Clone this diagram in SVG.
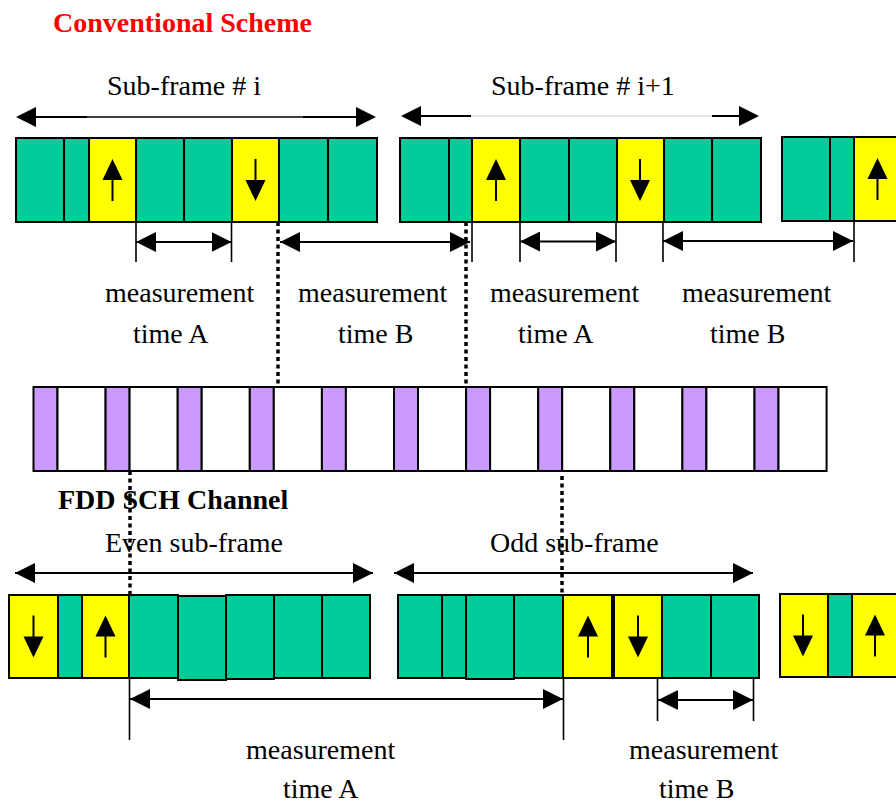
<svg xmlns="http://www.w3.org/2000/svg" xmlns:xlink="http://www.w3.org/1999/xlink" width="896" height="805" viewBox="0 0 896 805">
<style>
text{font-family:"Liberation Serif","Times New Roman",serif;font-size:28px;fill:#000}
.b{font-weight:bold}
.red{fill:#ff0000}
.g{fill:#00cc99;stroke:#000;stroke-width:2}
.y{fill:#ffff00;stroke:#000;stroke-width:2}
.p{fill:#cc99ff;stroke:#000;stroke-width:2}
.w{fill:#fff;stroke:#000;stroke-width:2}
.ln{stroke:#000;stroke-width:2;fill:none}
.thin{stroke:#000;stroke-width:1.3;fill:none}
.tick{stroke:#000;stroke-width:1.6;fill:none}
.dot{stroke:#000;stroke-width:3.5;stroke-dasharray:4 3.5;fill:none}
</style>
<defs>
<marker id="ah" markerUnits="userSpaceOnUse" markerWidth="20" markerHeight="20" viewBox="0 0 20 20" refX="20" refY="10" orient="auto-start-reverse">
<path d="M0,0 L20,10 L0,20 z" fill="#000"/>
</marker>
<g id="up"><line x1="0" y1="-2" x2="0" y2="21" stroke="#000" stroke-width="2"/><polygon points="0,-21 -10,0 10,0" fill="#000"/></g>
<g id="down"><line x1="0" y1="-21" x2="0" y2="2" stroke="#000" stroke-width="2"/><polygon points="0,21 -10,0 10,0" fill="#000"/></g>
</defs>
<rect width="896" height="805" fill="#fff"/>

<text x="53" y="32" class="b red">Conventional Scheme</text>
<text x="107" y="95">Sub-frame # i</text>
<text x="491" y="95">Sub-frame # i+1</text>

<g id="frame-top-1">
<rect x="16" y="138" width="48" height="84" class="g"/>
<rect x="64" y="138" width="25" height="84" class="g"/>
<rect x="89" y="138" width="47" height="84" class="y"/>
<rect x="136" y="138" width="48" height="84" class="g"/>
<rect x="184" y="138" width="48" height="84" class="g"/>
<rect x="232" y="138" width="47" height="84" class="y"/>
<rect x="279" y="138" width="49" height="84" class="g"/>
<rect x="328" y="138" width="49" height="84" class="g"/>
<use xlink:href="#up" href="#up" transform="translate(112.5,180)"/>
<use xlink:href="#down" href="#down" transform="translate(255.5,180)"/>
</g>

<g id="frame-top-2">
<rect x="400" y="138" width="49" height="84" class="g"/>
<rect x="449" y="138" width="23" height="84" class="g"/>
<rect x="472" y="138" width="48" height="84" class="y"/>
<rect x="520" y="138" width="49" height="84" class="g"/>
<rect x="569" y="138" width="48" height="84" class="g"/>
<rect x="617" y="138" width="47" height="84" class="y"/>
<rect x="664" y="138" width="48" height="84" class="g"/>
<rect x="712" y="138" width="49" height="84" class="g"/>
<use xlink:href="#up" href="#up" transform="translate(496,180)"/>
<use xlink:href="#down" href="#down" transform="translate(640,180)"/>
</g>

<g id="frame-top-3">
<rect x="782" y="137" width="48" height="84" class="g"/>
<rect x="830" y="137" width="24" height="84" class="g"/>
<rect x="854" y="137" width="47" height="84" class="y"/>
<use xlink:href="#up" href="#up" transform="translate(877.5,179)"/>
</g>

<g id="labels-top">
<text x="105" y="302">measurement</text>
<text x="133" y="343">time A</text>
<text x="298" y="302">measurement</text>
<text x="338" y="343">time B</text>
<text x="490" y="302">measurement</text>
<text x="518" y="343">time A</text>
<text x="682" y="302">measurement</text>
<text x="710" y="343">time B</text>
</g>

<g id="sch-channel">
<rect x="33.5" y="387" width="24" height="84" class="p"/><rect x="57.5" y="387" width="48.1" height="84" class="w"/>
<rect x="105.6" y="387" width="24" height="84" class="p"/><rect x="129.6" y="387" width="48.1" height="84" class="w"/>
<rect x="177.7" y="387" width="24" height="84" class="p"/><rect x="201.7" y="387" width="48.1" height="84" class="w"/>
<rect x="249.8" y="387" width="24" height="84" class="p"/><rect x="273.8" y="387" width="48.1" height="84" class="w"/>
<rect x="321.9" y="387" width="24" height="84" class="p"/><rect x="345.9" y="387" width="48.1" height="84" class="w"/>
<rect x="394" y="387" width="24" height="84" class="p"/><rect x="418" y="387" width="48.1" height="84" class="w"/>
<rect x="466.1" y="387" width="24" height="84" class="p"/><rect x="490.1" y="387" width="48.1" height="84" class="w"/>
<rect x="538.2" y="387" width="24" height="84" class="p"/><rect x="562.2" y="387" width="48.1" height="84" class="w"/>
<rect x="610.3" y="387" width="24" height="84" class="p"/><rect x="634.3" y="387" width="48.1" height="84" class="w"/>
<rect x="682.4" y="387" width="24" height="84" class="p"/><rect x="706.4" y="387" width="48.1" height="84" class="w"/>
<rect x="754.5" y="387" width="24" height="84" class="p"/><rect x="778.5" y="387" width="48.1" height="84" class="w"/>
</g>

<text x="58" y="509" class="b">FDD SCH Channel</text>
<text x="105" y="552">Even sub-frame</text>
<text x="490" y="552">Odd sub-frame</text>

<g id="frame-bottom-1">
<rect x="9" y="595" width="49" height="83" class="y"/>
<rect x="58" y="595" width="24" height="83" class="g"/>
<rect x="82" y="595" width="47" height="83" class="y"/>
<rect x="129" y="595" width="49" height="83" class="g"/>
<rect x="178" y="596" width="48" height="84" class="g"/>
<rect x="226" y="595" width="48" height="84" class="g"/>
<rect x="274" y="595" width="48" height="83" class="g"/>
<rect x="322" y="595" width="48" height="83" class="g"/>
<use xlink:href="#down" href="#down" transform="translate(33.5,636.5)"/>
<use xlink:href="#up" href="#up" transform="translate(105.5,636.5)"/>
</g>

<g id="frame-bottom-2">
<rect x="398" y="595" width="44" height="83" class="g"/>
<rect x="442" y="595" width="24" height="83" class="g"/>
<rect x="466" y="595" width="48" height="84" class="g"/>
<rect x="514" y="595" width="49" height="83" class="g"/>
<rect x="563" y="595" width="49" height="83" class="y"/>
<rect x="614" y="595" width="48" height="83" class="y"/>
<rect x="662" y="595" width="49" height="83" class="g"/>
<rect x="711" y="595" width="48" height="83" class="g"/>
<use xlink:href="#up" href="#up" transform="translate(588,636.5)"/>
<use xlink:href="#down" href="#down" transform="translate(638,636.5)"/>
</g>

<g id="frame-bottom-3">
<rect x="780" y="594" width="48" height="83" class="y"/>
<rect x="828" y="594" width="24" height="83" class="g"/>
<rect x="852" y="594" width="47" height="83" class="y"/>
<use xlink:href="#down" href="#down" transform="translate(803,635.5)"/>
<use xlink:href="#up" href="#up" transform="translate(875,635.5)"/>
</g>

<g id="labels-bottom">
<text x="246" y="759">measurement</text>
<text x="283" y="798">time A</text>
<text x="629" y="759">measurement</text>
<text x="659" y="798">time B</text>
</g>

<g id="connectors">
<line x1="36" y1="117" x2="87" y2="117" class="ln"/>
<line x1="87" y1="117" x2="303" y2="117" class="thin"/>
<line x1="303" y1="117" x2="356" y2="117" class="ln"/>
<path d="M16,117 l20,-10 v20 z" fill="#000"/>
<path d="M376,117 l-20,-10 v20 z" fill="#000"/>
<line x1="420" y1="116" x2="471" y2="116" class="ln"/>
<line x1="471" y1="116" x2="712" y2="116" stroke="#dcdcdc" stroke-width="1.5"/>
<line x1="712" y1="116" x2="740" y2="116" class="ln"/>
<path d="M401,116 l20,-10 v20 z" fill="#000"/>
<path d="M759,116 l-20,-10 v20 z" fill="#000"/>
<line x1="15" y1="573" x2="373" y2="573" class="ln" marker-start="url(#ah)" marker-end="url(#ah)"/>
<line x1="394" y1="573" x2="753" y2="573" class="ln" marker-start="url(#ah)" marker-end="url(#ah)"/>

<line x1="136" y1="222" x2="136" y2="262" class="tick"/>
<line x1="231.5" y1="222" x2="231.5" y2="262" class="tick"/>
<line x1="472" y1="222" x2="472" y2="262" class="tick"/>
<line x1="520" y1="222" x2="520" y2="262" class="tick"/>
<line x1="616" y1="222" x2="616" y2="262" class="tick"/>
<line x1="663" y1="222" x2="663" y2="262" class="tick"/>
<line x1="854" y1="221" x2="854" y2="262" class="tick"/>
<line x1="136" y1="242" x2="231.5" y2="242" class="ln" marker-start="url(#ah)" marker-end="url(#ah)"/>
<line x1="280" y1="242" x2="470" y2="242" class="ln" marker-start="url(#ah)" marker-end="url(#ah)"/>
<line x1="520" y1="241.5" x2="616" y2="241.5" class="ln" marker-start="url(#ah)" marker-end="url(#ah)"/>
<line x1="663" y1="241" x2="853" y2="241" class="ln" marker-start="url(#ah)" marker-end="url(#ah)"/>

<line x1="278" y1="222" x2="278" y2="387" class="dot"/>
<line x1="466" y1="222" x2="466" y2="387" class="dot"/>
<line x1="130" y1="471" x2="130" y2="595" class="dot"/>
<line x1="562" y1="476" x2="562" y2="595" class="dot"/>

<line x1="129.5" y1="678" x2="129.5" y2="740" class="tick"/>
<line x1="563.5" y1="678" x2="563.5" y2="740" class="tick"/>
<line x1="657.5" y1="679" x2="657.5" y2="721" class="tick"/>
<line x1="753.5" y1="678" x2="753.5" y2="721" class="tick"/>
<line x1="130" y1="699" x2="563" y2="699" class="ln" marker-start="url(#ah)" marker-end="url(#ah)"/>
<line x1="658" y1="700" x2="753" y2="700" class="ln" marker-start="url(#ah)" marker-end="url(#ah)"/>
</g>
</svg>
